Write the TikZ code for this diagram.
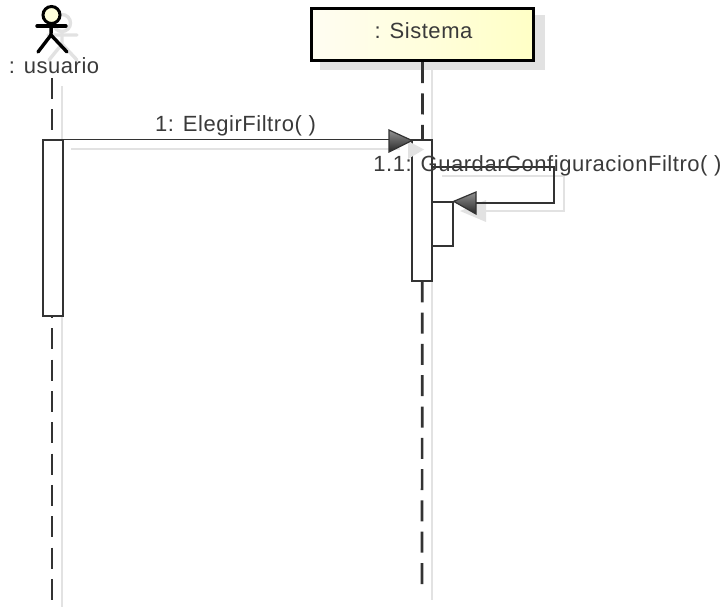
\documentclass[tikz,border=0pt]{standalone}
\usepackage{fontspec}
\setmainfont{Liberation Sans}
\usetikzlibrary{positioning, calc, shapes.geometric}

\definecolor{shadowgray}{HTML}{E2E2E2}
\definecolor{linegray}{HTML}{333333}
\definecolor{textgray}{HTML}{3A3A3A}
\definecolor{boxleft}{HTML}{FFFDF2}
\definecolor{boxright}{HTML}{FFFFC6}
\definecolor{headfill}{HTML}{FFFFDC}

\tikzset{
  lifeline/.style={line width=2.7pt, linegray, dash pattern=on 21pt off 10.3pt},
  lifeshadow/.style={line width=1.6pt, shadowgray},
  activation/.style={draw=linegray, fill=white, line width=1.3pt, inner sep=0pt, minimum width=20pt},
  message/.style={line width=1.6pt, linegray},
  msgshadow/.style={line width=1.6pt, shadowgray},
  tiptri/.style={draw=linegray, line width=1.2pt, top color=gray!85, bottom color=black!85},
  tipshadow/.style={fill=shadowgray, draw=none},
  msglabel/.style={font=\fontsize{22}{24}\selectfont\addfontfeature{LetterSpace=2.5}, text=textgray, inner sep=0pt},
  actorline/.style={line width=3.4pt, black, line cap=round},
  actorshadow/.style={line width=3.4pt, shadowgray, line cap=round},
}

\begin{document}
\begin{tikzpicture}[x=1pt, y=-1pt]
\useasboundingbox (0,0) rectangle (726,607);

% Actor shadow
\draw[actorshadow] (62,23) circle (8.5);
\draw[actorshadow] (62,32) -- (62,44) (48,35) -- (77,35) (49,60) -- (62,44) -- (77,60);
% Actor
\node[circle, draw=black, line width=3pt, fill=headfill, minimum size=17pt, inner sep=0pt] (head) at (51.5,15) {};
\coordinate (hip) at (51,35);
\coordinate (armL) at (37,26);
\coordinate (armR) at (66,26);
\coordinate (footL) at (38,52);
\coordinate (footR) at (67,52);
\draw[actorline] (head) -- (hip);
\draw[actorline] (armL) -- (armR);
\draw[actorline] (footL) -- (hip) -- (footR);
\node[msglabel] (usuario) at (54,66) {: usuario};

% Sistema box
\fill[shadowgray] (320,15) rectangle (545,70);
\node[draw=black, line width=3.4pt, left color=boxleft, right color=boxright, minimum width=222pt, minimum height=52pt, inner sep=0pt] (sistema) at (422.5,34.5) {};
\node[msglabel] (sistemaLabel) at (423.5,30.5) {: Sistema};

% Lifelines
\coordinate (usuarioTop) at (52,78);
\coordinate (usuarioEnd) at (52,600);
\coordinate (sistemaEnd) at (422,590);
\coordinate (usuarioShadowTop) at (62,86);
\coordinate (usuarioShadowEnd) at (62,607);
\coordinate (sistemaShadowTop) at (432,70);
\coordinate (sistemaShadowEnd) at (432,600);
\draw[lifeshadow] (usuarioShadowTop) -- (usuarioShadowEnd);
\draw[lifeshadow] (sistemaShadowTop) -- (sistemaShadowEnd);
\draw[lifeline] (usuarioTop) -- (usuarioEnd);
\draw[lifeline] (sistema.south) -- (sistemaEnd);

% Activations
\node[activation, minimum height=176pt] (actUsuario) at (53,228) {};
\node[activation, minimum height=141pt] (actSistema) at (422,210.5) {};
\node[activation, minimum width=21pt, minimum height=44pt] (actSelf) at (442.5,224) {};

% Message shadows
\coordinate (msgShadowA) at (71,149);
\coordinate (msgShadowB) at (400,149);
\draw[msgshadow] (msgShadowA) -- (msgShadowB);
\fill[tipshadow] (408,141) -- (424,149.5) -- (408,159) -- cycle;
\coordinate (selfShadowA) at (442,176);
\coordinate (selfShadowB) at (564,176);
\coordinate (selfShadowC) at (564,211);
\coordinate (selfShadowD) at (480,211);
\draw[msgshadow] (selfShadowA) -- (selfShadowB) -- (selfShadowC) -- (selfShadowD);
\fill[tipshadow] (460,211) -- (486,200) -- (486,222) -- cycle;

% Message 1
\coordinate (tipOneTop) at (389,130);
\coordinate (tipOneBot) at (389,152);
\coordinate (tipOne) at (412,140.5);
\draw[message] (actUsuario.north east) -- (actSistema.north west);
\draw[tiptri] (tipOneTop) -- (tipOne) -- (tipOneBot) -- cycle;
\node[msglabel] (msgOne) at (235.5,125.5) {1: ElegirFiltro( )};

% Message 1.1
\coordinate (selfStart) at (432,167);
\coordinate (selfCorner) at (554,167);
\coordinate (selfLow) at (554,203);
\coordinate (tipTwoBase) at (476,203);
\coordinate (tipTwoTop) at (476,192);
\coordinate (tipTwoBot) at (476,214);
\draw[message] (selfStart) -- (selfCorner) -- (selfLow) -- (tipTwoBase);
\draw[tiptri] (actSelf.north east) -- (tipTwoTop) -- (tipTwoBot) -- cycle;
\node[msglabel] (msgTwo) at (547.5,165.5) {1.1: GuardarConfiguracionFiltro( )};
\end{tikzpicture}
\end{document}
